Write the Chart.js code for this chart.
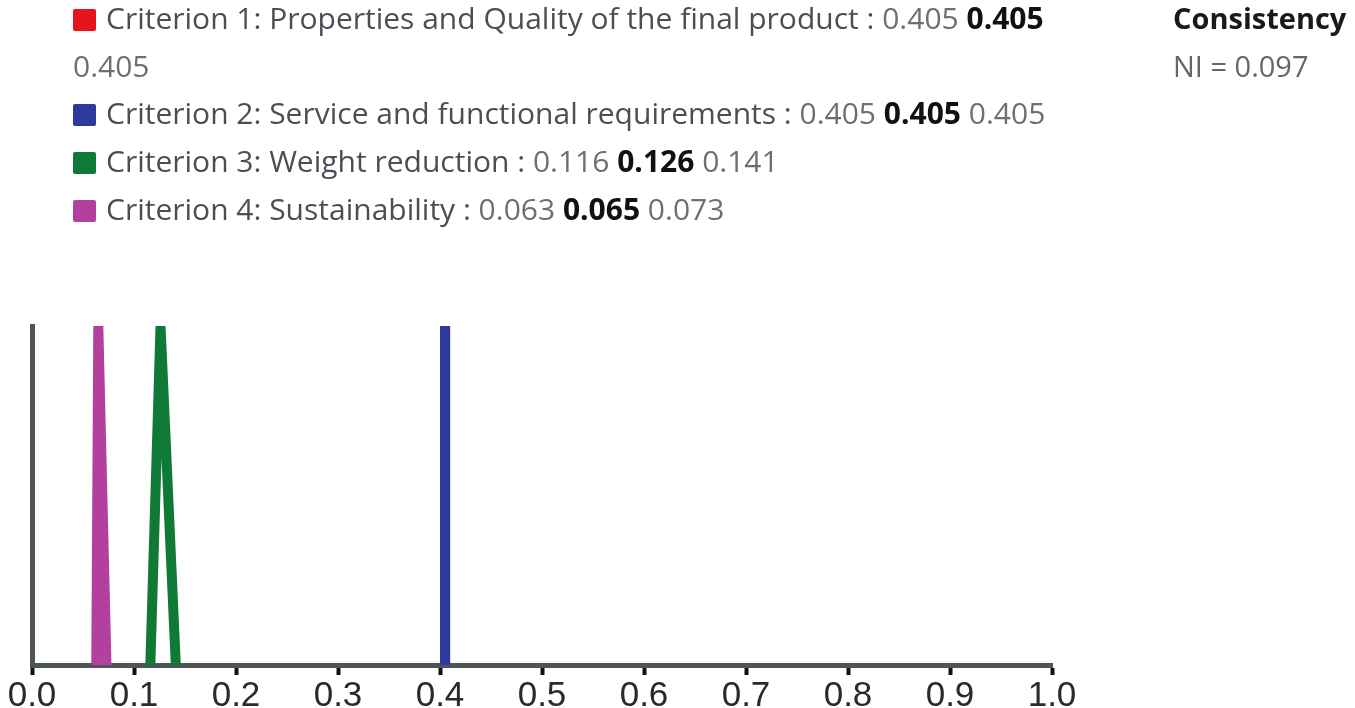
<!DOCTYPE html>
<html>
<head>
<meta charset="utf-8">
<script src="https://cdn.jsdelivr.net/npm/chart.js@4/dist/chart.umd.min.js"></script>
<style>
  body { margin: 0; background: #fff; }
  #wrap { position: relative; width: 1355px; height: 708px; overflow: hidden; }
  #myChart { position: absolute; left: 0; top: 0; }
  #legend {
    position: absolute; left: 73px; top: -6px; width: 990px;
    font-family: "Open Sans", sans-serif; font-size: 30px; line-height: 47.7px;
    color: #4b4f55;
  }
  #legend .sq { display: inline-block; width: 23px; height: 22px; vertical-align: -2px; margin-right: 10px; border-radius: 2px; }
  #legend .num { color: #6b7077; }
  #legend b { color: #111; }
  #consistency {
    position: absolute; left: 1173px; top: -6px;
    font-family: "Open Sans", sans-serif; font-size: 29px; line-height: 47.7px;
    color: #666;
  }
  #consistency b { color: #1a1a1a; }
</style>
</head>
<body>
<div id="wrap">
  <canvas id="myChart" width="1355" height="708"></canvas>
  <div id="legend"></div>
  <div id="consistency"></div>
</div>
<script>
// triangular fuzzy weights of each criterion (lower, middle, upper)
var criteria = [
    "Criterion 1: Properties and Quality of the final product",
    "Criterion 2: Service and functional requirements",
    "Criterion 3: Weight reduction",
    "Criterion 4: Sustainability"
]
var lower  = [0.405, 0.405, 0.116, 0.063]
var middle = [0.405, 0.405, 0.126, 0.065]
var upper  = [0.405, 0.405, 0.141, 0.073]
var colors = ["#e8141c", "#2b3a9c", "#0f7a36", "#b3409e"]
var drawOrder = [4, 1, 2, 3]

var consistencyLabel = "Consistency"
var niValue = 0.097

var xMin = 0
var xMax = 1
var xStep = 0.1

// legend text
var legend = document.getElementById("legend")
criteria.forEach((c, i) => {
    var row = document.createElement("div")
    row.innerHTML = '<span class="sq" style="background:' + colors[i] + '"></span>' +
        c + ' : <span class="num">' + lower[i].toFixed(3) + '</span> <b>' +
        middle[i].toFixed(3) + '</b> <span class="num">' + upper[i].toFixed(3) + '</span>'
    legend.appendChild(row)
})
document.getElementById("consistency").innerHTML =
    "<b>" + consistencyLabel + "</b><br>NI = " + niValue.toFixed(3)

var datasets = criteria.map((c, i) => ({
    label: c,
    data: [
        {x: lower[i], y: 0},
        {x: middle[i], y: 1},
        {x: upper[i], y: 0}
    ],
    showLine: true,
    borderColor: colors[i],
    backgroundColor: colors[i],
    borderWidth: 10,
    borderJoinStyle: "round",
    pointRadius: 0,
    order: drawOrder[i]
}))

const config = {
    type: "scatter",
    data: { datasets: datasets },
    options: {
        responsive: false,
        animation: false,
        layout: { padding: { left: 32, top: 326, right: 303, bottom: 0 } },
        plugins: {
            legend: { display: false },
            tooltip: { enabled: false }
        },
        scales: {
            x: {
                type: "linear",
                min: xMin,
                max: xMax,
                afterFit: s => { s.height = 43 },
                afterBuildTicks: s => {
                    s.ticks = []
                    for (let v = xMin; v <= xMax + 1e-9; v += xStep) s.ticks.push({value: +v.toFixed(1)})
                },
                grid: {
                    drawOnChartArea: false,
                    drawTicks: true,
                    tickLength: 10,
                    tickWidth: 4,
                    tickColor: "#111"
                },
                border: { display: true, color: "#4d5556", width: 5 },
                ticks: {
                    padding: 0,
                    color: "#2a2a2a",
                    font: { family: "Liberation Sans", size: 35 },
                    callback: v => v.toFixed(1),
                    maxRotation: 0,
                    autoSkip: false
                }
            },
            y: {
                type: "linear",
                min: 0,
                max: 1,
                afterFit: s => { s.width = 0 },
                grid: { display: false, drawTicks: false },
                border: { display: true, color: "#4d5556", width: 5 },
                ticks: { display: false }
            }
        }
    }
}

const myChart = new Chart(document.getElementById("myChart"), config)
</script>
</body>
</html>
